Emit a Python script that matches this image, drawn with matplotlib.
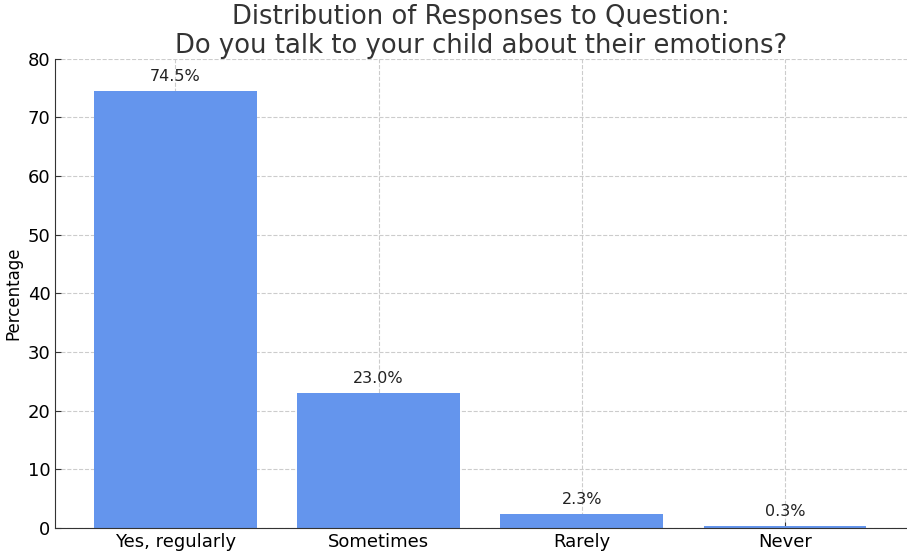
import matplotlib
matplotlib.use("Agg")
import matplotlib.pyplot as plt

# ─────────────────────────────────────────────
# DATA
# ─────────────────────────────────────────────
categories = ["Yes, regularly", "Sometimes", "Rarely", "Never"]
percentages = [74.5, 23.0, 2.3, 0.3]
y_ticks = [0, 10, 20, 30, 40, 50, 60, 70, 80]

bar_color = "#6495ED"  # cornflowerblue

fig = plt.figure(figsize=(9.07, 5.54), dpi=100)
ax = fig.add_axes([0.061, 0.047, 0.939, 0.847])

positions = list(range(len(categories)))
bars = ax.bar(positions, percentages, width=0.8, color=bar_color, zorder=2)

# value labels above bars
for bar, val in zip(bars, percentages):
    ax.text(bar.get_x() + bar.get_width() / 2, bar.get_height() + 1.2,
            f"{val:.1f}%", ha="center", va="bottom", fontsize=11.5, color="#222222")

ax.set_xticks(positions)
ax.set_xticklabels(categories, fontsize=13)
ax.set_yticks(y_ticks)
ax.tick_params(axis="y", labelsize=13)
ax.tick_params(direction="in", length=4, color="#333333")
ax.set_xlim(-0.59, 3.6)
ax.set_ylim(0, 80)

ax.set_ylabel("Percentage", fontsize=12)
ax.set_title("Distribution of Responses to Question:\nDo you talk to your child about their emotions?",
             fontsize=18.6, color="#333333", pad=4, linespacing=1.15)

ax.grid(True, linestyle="--", color="#cccccc", linewidth=0.8, zorder=0)
ax.set_axisbelow(True)
ax.spines["top"].set_visible(False)
ax.spines["right"].set_visible(False)
ax.spines["left"].set_color("#333333")
ax.spines["bottom"].set_color("#333333")

fig.savefig("out.png", dpi=100)
